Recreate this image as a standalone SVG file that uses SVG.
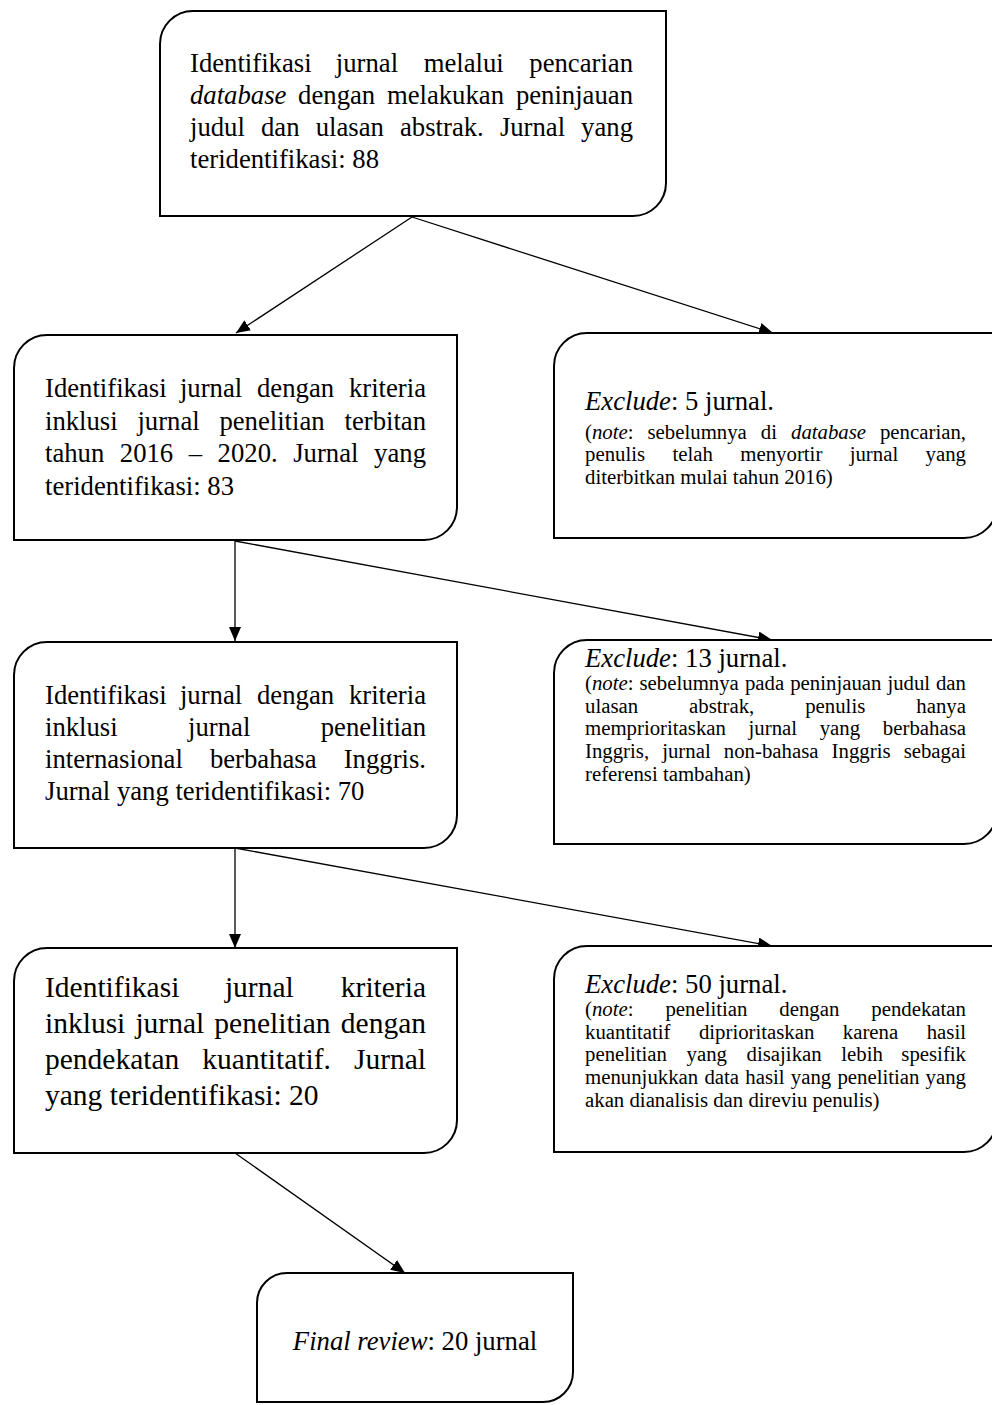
<svg xmlns="http://www.w3.org/2000/svg" width="992" height="1405" viewBox="0 0 992 1405">
<style>
.box{fill:#fff;stroke:#000;stroke-width:2}
.t{font-family:"Liberation Serif","Times New Roman",serif;font-size:26.7px;fill:#000}
.t4{font-family:"Liberation Serif","Times New Roman",serif;font-size:29.5px;fill:#000}
.n{font-family:"Liberation Serif","Times New Roman",serif;font-size:20.8px;fill:#000}
.e{text-anchor:end}
.i{font-style:italic}
.c{stroke:#000;stroke-width:1.3;fill:none;marker-end:url(#ah)}
</style>
<defs>
<marker id="ah" markerUnits="userSpaceOnUse" markerWidth="14" markerHeight="12" refX="14" refY="6" orient="auto"><path d="M0,0 L14,6 L0,12 Z" fill="#000"/></marker>
</defs>
<g id="connectors">
<line class="c" x1="412" y1="217" x2="236" y2="333"/>
<line class="c" x1="412" y1="217" x2="773" y2="333"/>
<line class="c" x1="235" y1="541" x2="235" y2="641"/>
<line class="c" x1="235" y1="541" x2="772" y2="640"/>
<line class="c" x1="235" y1="848" x2="235" y2="948"/>
<line class="c" x1="235" y1="848" x2="772" y2="946"/>
<line class="c" x1="235" y1="1153" x2="405" y2="1273"/>
</g>
<g id="n1">
<path class="box" d="M160,44 A33,33 0 0 1 193,11 H666 V183 A33,33 0 0 1 633,216 H160 Z"/>
<text class="t" y="72"><tspan x="190">Identifikasi</tspan><tspan x="335.8">jurnal</tspan><tspan x="423.7">melalui</tspan></text>
<text class="t e" x="633" y="72">pencarian</text>
<text class="t" y="104"><tspan x="190" class="i">database</tspan><tspan x="298.1">dengan</tspan><tspan x="386.9">melakukan</tspan></text>
<text class="t e" x="633" y="104">peninjauan</text>
<text class="t" y="136"><tspan x="190">judul</tspan><tspan x="261">dan</tspan><tspan x="315.7">ulasan</tspan><tspan x="400">abstrak.</tspan><tspan x="499.9">Jurnal</tspan></text>
<text class="t e" x="633" y="136">yang</text>
<text class="t" x="190" y="168">teridentifikasi: 88</text>
</g>
<g id="n2">
<path class="box" d="M14,368 A33,33 0 0 1 47,335 H457 V507 A33,33 0 0 1 424,540 H14 Z"/>
<text class="t" y="397"><tspan x="45">Identifikasi</tspan><tspan x="179.9">jurnal</tspan><tspan x="257">dengan</tspan></text>
<text class="t e" x="426" y="397">kriteria</text>
<text class="t" y="430"><tspan x="45">inklusi</tspan><tspan x="137.4">jurnal</tspan><tspan x="219.4">penelitian</tspan></text>
<text class="t e" x="426" y="430">terbitan</text>
<text class="t" y="462"><tspan x="45">tahun</tspan><tspan x="119.8">2016</tspan><tspan x="188.7">–</tspan><tspan x="217.6">2020.</tspan><tspan x="293.2">Jurnal</tspan></text>
<text class="t e" x="426" y="462">yang</text>
<text class="t" x="45" y="495">teridentifikasi: 83</text>
</g>
<g id="n3">
<path class="box" d="M554,366 A33,33 0 0 1 587,333 H997 V505 A33,33 0 0 1 964,538 H554 Z"/>
<text class="t" x="585" y="410"><tspan class="i">Exclude</tspan>: 5 jurnal.</text>
<text class="n" y="438.5"><tspan x="585">(</tspan><tspan class="i">note</tspan>:<tspan x="647.5">sebelumnya</tspan><tspan x="760.8">di</tspan><tspan x="791" class="i">database</tspan></text>
<text class="n e" x="966" y="438.5">pencarian,</text>
<text class="n" y="461.2"><tspan x="585">penulis</tspan><tspan x="672.5">telah</tspan><tspan x="740.3">menyortir</tspan><tspan x="849.7">jurnal</tspan></text>
<text class="n e" x="966" y="461.2">yang</text>
<text class="n" x="585" y="483.9">diterbitkan mulai tahun 2016)</text>
</g>
<g id="n4">
<path class="box" d="M14,675 A33,33 0 0 1 47,642 H457 V815 A33,33 0 0 1 424,848 H14 Z"/>
<text class="t" y="704"><tspan x="45">Identifikasi</tspan><tspan x="179.9">jurnal</tspan><tspan x="257">dengan</tspan></text>
<text class="t e" x="426" y="704">kriteria</text>
<text class="t" y="736"><tspan x="45">inklusi</tspan><tspan x="188.1">jurnal</tspan></text>
<text class="t e" x="426" y="736">penelitian</text>
<text class="t" y="768"><tspan x="45">internasional</tspan><tspan x="209.9">berbahasa</tspan></text>
<text class="t e" x="426" y="768">Inggris.</text>
<text class="t" x="45" y="800">Jurnal yang teridentifikasi: 70</text>
</g>
<g id="n5">
<path class="box" d="M554,673 A33,33 0 0 1 587,640 H997 V811 A33,33 0 0 1 964,844 H554 Z"/>
<text class="t" x="585" y="667"><tspan class="i">Exclude</tspan>: 13 jurnal.</text>
<text class="n" y="690"><tspan x="585">(</tspan><tspan class="i">note</tspan>:<tspan x="639.5">sebelumnya</tspan><tspan x="744.9">pada</tspan><tspan x="790.2">peninjauan</tspan><tspan x="887.4">judul</tspan></text>
<text class="n e" x="966" y="690">dan</text>
<text class="n" y="712.7"><tspan x="585">ulasan</tspan><tspan x="689">abstrak,</tspan><tspan x="805.2">penulis</tspan></text>
<text class="n e" x="966" y="712.7">hanya</text>
<text class="n" y="735.4"><tspan x="585">memprioritaskan</tspan><tspan x="748.6">jurnal</tspan><tspan x="819.7">yang</tspan></text>
<text class="n e" x="966" y="735.4">berbahasa</text>
<text class="n" y="758.1"><tspan x="585">Inggris,</tspan><tspan x="662.2">jurnal</tspan><tspan x="723.8">non-bahasa</tspan><tspan x="831.6">Inggris</tspan></text>
<text class="n e" x="966" y="758.1">sebagai</text>
<text class="n" x="585" y="780.8">referensi tambahan)</text>
</g>
<g id="n6">
<path class="box" d="M14,981 A33,33 0 0 1 47,948 H457 V1120 A33,33 0 0 1 424,1153 H14 Z"/>
<text class="t4" y="997"><tspan x="45">Identifikasi</tspan><tspan x="224.9">jurnal</tspan></text>
<text class="t4 e" x="426" y="997">kriteria</text>
<text class="t4" y="1033"><tspan x="45">inklusi</tspan><tspan x="135.4">jurnal</tspan><tspan x="214.3">penelitian</tspan></text>
<text class="t4 e" x="426" y="1033">dengan</text>
<text class="t4" y="1069"><tspan x="45">pendekatan</tspan><tspan x="202.3">kuantitatif.</tspan></text>
<text class="t4 e" x="426" y="1069">Jurnal</text>
<text class="t4" x="45" y="1105">yang teridentifikasi: 20</text>
</g>
<g id="n7">
<path class="box" d="M554,979 A33,33 0 0 1 587,946 H997 V1119 A33,33 0 0 1 964,1152 H554 Z"/>
<text class="t" x="585" y="993"><tspan class="i">Exclude</tspan>: 50 jurnal.</text>
<text class="n" y="1016"><tspan x="585">(</tspan><tspan class="i">note</tspan>:<tspan x="665.4">penelitian</tspan><tspan x="779.3">dengan</tspan></text>
<text class="n e" x="966" y="1016">pendekatan</text>
<text class="n" y="1038.7"><tspan x="585">kuantitatif</tspan><tspan x="698.9">diprioritaskan</tspan><tspan x="842.8">karena</tspan></text>
<text class="n e" x="966" y="1038.7">hasil</text>
<text class="n" y="1061.4"><tspan x="585">penelitian</tspan><tspan x="686.6">yang</tspan><tspan x="746.6">disajikan</tspan><tspan x="841.3">lebih</tspan></text>
<text class="n e" x="966" y="1061.4">spesifik</text>
<text class="n" y="1084.1"><tspan x="585">menunjukkan</tspan><tspan x="704.4">data</tspan><tspan x="745.3">hasil</tspan><tspan x="790.8">yang</tspan><tspan x="837.4">penelitian</tspan></text>
<text class="n e" x="966" y="1084.1">yang</text>
<text class="n" x="585" y="1106.8">akan dianalisis dan direviu penulis)</text>
</g>
<g id="n8">
<path class="box" d="M257,1303 A30,30 0 0 1 287,1273 H573 V1372 A30,30 0 0 1 543,1402 H257 Z"/>
<text class="t" x="415" y="1350" text-anchor="middle"><tspan class="i">Final review</tspan>: 20 jurnal</text>
</g>
</svg>
